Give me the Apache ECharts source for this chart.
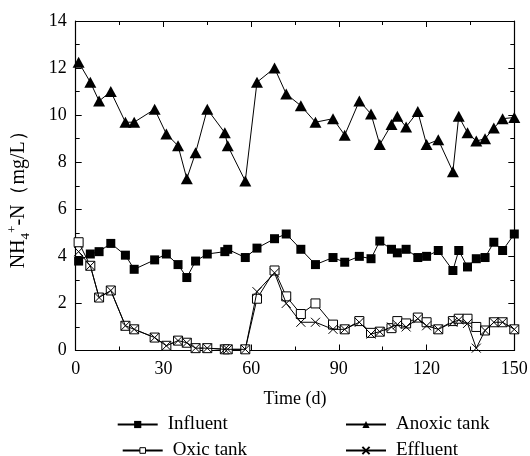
<!DOCTYPE html>
<html><head><meta charset="utf-8">
<script src="https://cdn.jsdelivr.net/npm/echarts@6/dist/echarts.min.js"></script>
<style>html,body{margin:0;padding:0;background:#fff}#c{width:530px;height:456px}</style>
</head><body><div id="c"></div>
<script>
const days = [1,5,8,12,17,20,27,31,35,38,41,45,51,52,58,62,68,72,77,82,88,92,97,101,104,108,110,113,117,120,124,129,131,134,137,140,143,146,150];
const influent = [3.8,4.1,4.2,4.55,4.05,3.45,3.85,4.1,3.65,3.1,3.8,4.1,4.2,4.3,3.95,4.35,4.75,4.95,4.3,3.65,3.95,3.75,4.0,3.9,4.65,4.3,4.15,4.3,3.95,4.0,4.25,3.4,4.25,3.55,3.9,3.95,4.6,4.25,4.95];
const anoxic = [12.25,11.4,10.6,11.0,9.7,9.7,10.25,9.2,8.7,7.3,8.4,10.25,9.25,8.7,7.2,11.4,12.0,10.9,10.4,9.7,9.85,9.15,10.6,10.05,8.75,9.6,9.95,9.5,10.15,8.75,8.95,7.6,9.95,9.25,8.9,9.0,9.45,9.85,9.9];
const oxic = [4.6,3.6,2.25,2.55,1.05,0.9,0.55,0.2,0.42,0.33,0.1,0.1,0.05,0.05,0.05,2.2,3.4,2.3,1.55,2.0,1.1,0.9,1.25,0.75,0.8,0.95,1.25,1.15,1.4,1.2,0.9,1.25,1.35,1.35,1.0,0.85,1.2,1.2,0.9];
const effluent = [4.2,3.6,2.25,2.55,1.05,0.9,0.55,0.2,0.42,0.33,0.1,0.1,0.05,0.05,0.05,2.5,3.3,2.0,1.2,1.2,0.9,0.9,1.2,0.7,0.8,1.0,1.1,1.0,1.35,1.05,0.9,1.2,1.3,1.15,0.1,0.85,1.2,1.2,0.9];
const xTicks = [0,30,60,90,120,150];
const yTicks = [0,2,4,6,8,10,12,14];

const FONT = '"Liberation Serif", "Times New Roman", serif';
const pairs = (ys) => days.map((d, i) => [d, ys[i]]);
const chart = echarts.init(document.getElementById('c'));

function axisBase(extra) {
  return Object.assign({
    type: 'value',
    splitLine: {show: false},
    axisLine: {show: true, onZero: false, lineStyle: {color: '#000', width: 1.2}},
    axisTick: {show: true, inside: true, length: 6, lineStyle: {color: '#000', width: 1}},
    minorTick: {show: true, splitNumber: 2, length: 4, lineStyle: {color: '#000', width: 1}},
    axisLabel: {color: '#000', fontFamily: FONT, fontSize: 18}
  }, extra);
}

const lineStyle = {color: '#000', width: 1};
const legendBase = {
  orient: 'vertical', itemWidth: 40, itemHeight: 9, itemGap: 0,
  textStyle: {fontFamily: FONT, fontSize: 19, color: '#000', padding: [0, 0, 0, 5]}
};

chart.setOption({
  animation: false,
  backgroundColor: '#fff',
  grid: {left: 75.7, right: 15.7, top: 21, bottom: 105.5, containLabel: false, outerBoundsMode: 'none'},
  xAxis: [
    axisBase({min: xTicks[0], max: xTicks[xTicks.length-1], interval: 30, position: 'bottom',
      name: 'Time (d)', nameLocation: 'middle', nameGap: 40,
      nameTextStyle: {fontFamily: FONT, fontSize: 18, color: '#000'},
      axisLabel: {color: '#000', fontFamily: FONT, fontSize: 18, margin: 10}}),
    axisBase({min: xTicks[0], max: xTicks[xTicks.length-1], interval: 30, position: 'top',
      axisLabel: {show: false}})
  ],
  yAxis: [
    axisBase({min: yTicks[0], max: yTicks[yTicks.length-1], interval: 2, position: 'left',
      name: '{n|NH}{s|4}{p|+}{n|-N（mg/L）}', nameLocation: 'middle', nameGap: 44, nameRotate: 90,
      nameTextStyle: {fontFamily: FONT, fontSize: 20, color: '#000', padding: [0, 18, 0, 0],
        rich: {
          n: {fontFamily: FONT, fontSize: 20, color: '#000', lineHeight: 26, verticalAlign: 'middle'},
          s: {fontFamily: FONT, fontSize: 13, color: '#000', lineHeight: 26, verticalAlign: 'bottom'},
          p: {fontFamily: FONT, fontSize: 13, color: '#000', lineHeight: 26, verticalAlign: 'top'}
        }},
      axisLabel: {color: '#000', fontFamily: FONT, fontSize: 18, margin: 9}}),
    axisBase({min: yTicks[0], max: yTicks[yTicks.length-1], interval: 2, position: 'right',
      axisLabel: {show: false}})
  ],
  legend: [
    Object.assign({}, legendBase, {left: 111.7, top: 410, data: ['Influent']}),
    Object.assign({}, legendBase, {left: 116.7, top: 436, data: ['Oxic tank'], itemHeight: 7,
      itemStyle: {borderWidth: 1, color: '#fff', borderColor: '#000'}}),
    Object.assign({}, legendBase, {left: 340, top: 410, data: ['Anoxic tank']}),
    Object.assign({}, legendBase, {left: 340, top: 436, data: ['Effluent']})
  ],
  series: [
    {name: 'Influent', type: 'line', data: pairs(influent), symbol: 'rect', symbolSize: 9,
      lineStyle, itemStyle: {color: '#000', borderColor: '#000', borderWidth: 0}, z: 2},
    {name: 'Anoxic tank', type: 'line', data: pairs(anoxic), symbol: 'triangle', symbolSize: [12, 11],
      lineStyle, itemStyle: {color: '#000', borderColor: '#000', borderWidth: 0}, z: 2},
    {name: 'Oxic tank', type: 'line', data: pairs(oxic), symbol: 'rect', symbolSize: 9,
      lineStyle, itemStyle: {color: '#fff', borderColor: '#000', borderWidth: 1}, z: 3},
    {name: 'Effluent', type: 'line', data: pairs(effluent), symbol: 'path://M0,0L10,10M10,0L0,10', symbolSize: 9,
      lineStyle, itemStyle: {color: 'rgba(0,0,0,0)', borderColor: '#000', borderWidth: 1}, z: 4}
  ]
});
</script></body></html>
